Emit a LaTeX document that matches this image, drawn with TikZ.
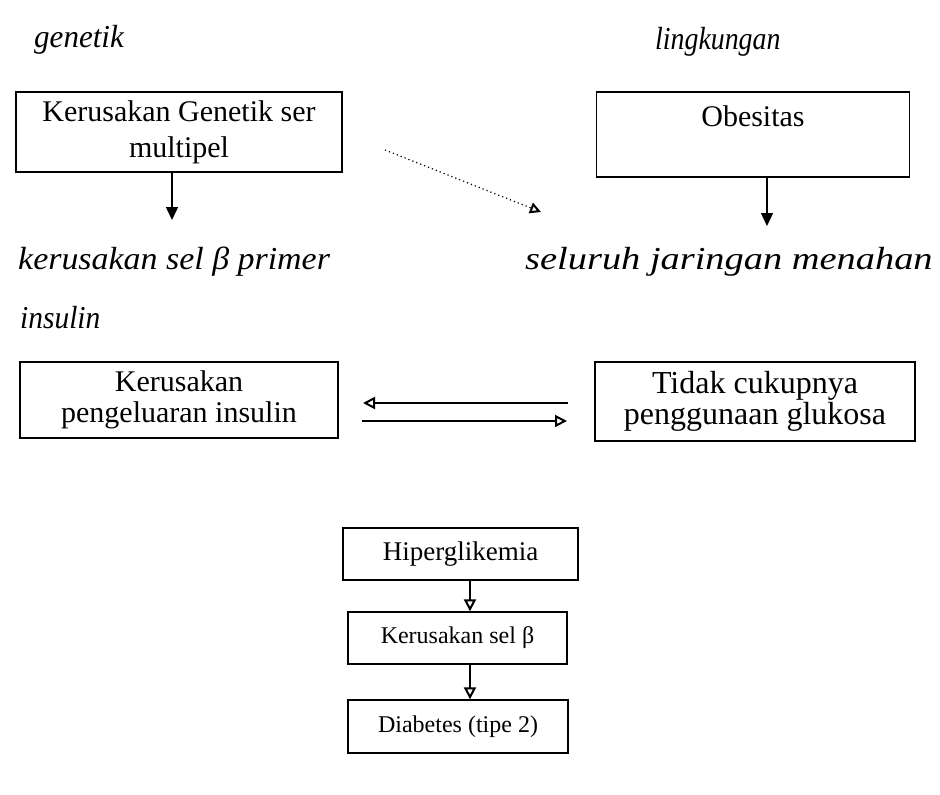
\documentclass[tikz,border=0pt]{standalone}
\usepackage{fontspec}
\setmainfont{Liberation Serif}
\usetikzlibrary{arrows.meta,calc}
\begin{document}
\begin{tikzpicture}[x=1pt,y=-1pt,
  box/.style={draw, line width=1.4pt, inner sep=0pt, font=\fontsize{30}{36}\selectfont, align=center},
  smallbox/.style={box, font=\fontsize{24}{28}\selectfont},
  lbl/.style={anchor=west, font=\fontsize{32}{36}\selectfont\itshape, inner sep=0pt},
  solidarr/.style={-{Triangle[length=13pt,width=12pt]}, line width=1.4pt},
  openarr/.style={-{Triangle[open,length=12pt,width=12pt,line width=2pt]}, line width=1.4pt},
  dotarr/.style={-{Triangle[open,length=11pt,width=11pt,line width=2pt,sep=0pt]}, line width=1.2pt, dash pattern=on 1.2pt off 3pt}]
\useasboundingbox (0,0) rectangle (940,795);
% labels
\node[lbl] (lg) at (34,40) {\scalebox{0.97}[1]{genetik}};
\node[lbl] (ll) at (655,42) {\scalebox{0.87}[1]{lingkungan}};
\node[lbl] (lk) at (18,262) {\scalebox{1.06}[1]{kerusakan sel β primer}};
\node[lbl] (ls) at (525,262) {\scalebox{1.2}[1]{seluruh jaringan menahan}};
\node[lbl] (li) at (20,318) {\scalebox{0.92}[1]{insulin}};
% top boxes
\node[box, minimum width=326pt, minimum height=80pt] (g) at (179,132) {Kerusakan Genetik ser\\multipel};
\node[box, minimum width=313pt, minimum height=85pt] (o) at (753,134.5) {Obesitas\\\mbox{}};
% middle boxes
\node[box, minimum width=318pt, minimum height=76pt, font=\fontsize{30}{31}\selectfont] (ki) at (179,400) {Kerusakan\\pengeluaran insulin};
\node[box, minimum width=320pt, minimum height=79pt, font=\fontsize{32}{31}\selectfont] (tc) at (755,401.5) {Tidak cukupnya\\penggunaan glukosa};
% lower chain
\node[smallbox, minimum width=235pt, minimum height=52pt, font=\fontsize{27}{30}\selectfont] (h) at (460.5,554) {Hiperglikemia};
\node[smallbox, minimum width=219pt, minimum height=52pt] (ks) at (457.5,638) {Kerusakan sel β};
\node[smallbox, minimum width=220pt, minimum height=53pt] (d) at (458,726.5) {Diabetes (tipe 2)};
% arrows
\coordinate (ga) at (172,220);
\draw[solidarr] (g.south -| ga) -- (ga);
\coordinate (oa) at (767,226);
\draw[solidarr] (o.south -| oa) -- (oa);
\coordinate (ds) at (385,150);
\coordinate (de) at (541,212);
\draw[dotarr] (ds) -- (de);
\coordinate (la) at (363,403);
\coordinate (lb) at (568,403);
\draw[openarr] (lb) -- (la);
\coordinate (ra) at (362,421);
\coordinate (rb) at (567,421);
\draw[openarr] (ra) -- (rb);
\coordinate (c1) at (470,0);
\draw[openarr, line width=1.2pt] (h.south -| c1) -- (ks.north -| c1);
\draw[openarr, line width=1.2pt] (ks.south -| c1) -- (d.north -| c1);
\end{tikzpicture}
\end{document}
